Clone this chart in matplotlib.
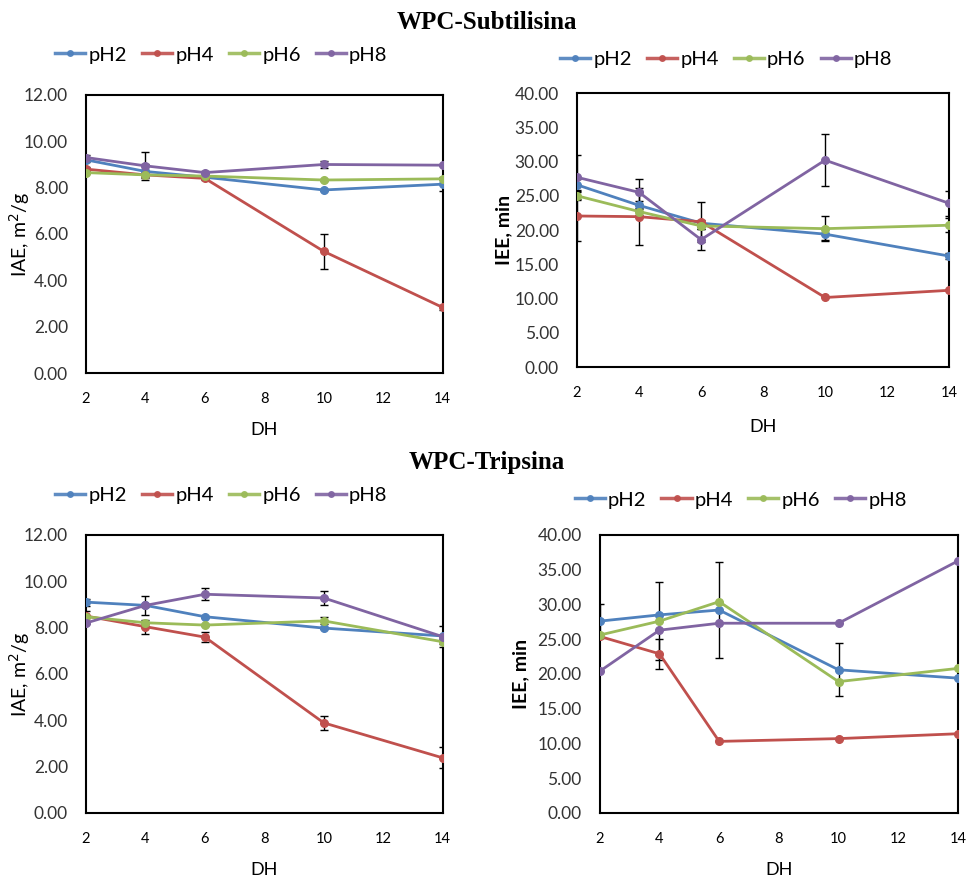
import numpy as np
import matplotlib.pyplot as plt
from matplotlib.lines import Line2D

dh = [2, 4, 6, 10, 14]
series_names = ["pH2", "pH4", "pH6", "pH8"]
colors = ["#4F81BD", "#C0504D", "#9BBB59", "#8064A2"]

# WPC-Subtilisina, IAE
iae_sub = [[9.20, 8.70, 8.45, 7.90, 8.15],
           [8.80, 8.55, 8.40, 5.25, 2.83],
           [8.65, 8.55, 8.50, 8.33, 8.38],
           [9.30, 8.94, 8.65, 9.00, 8.97]]
iae_sub_err = [[0.10, 0.30, 0.05, 0.05, 0.30],
               [0.10, 0.10, 0.05, 0.75, 0.10],
               [0.05, 0.05, 0.05, 0.05, 0.05],
               [0.10, 0.60, 0.05, 0.15, 0.05]]

# WPC-Subtilisina, IEE
iee_sub = [[26.6, 23.6, 21.0, 19.4, 16.2],
           [22.05, 21.95, 21.2, 10.15, 11.2],
           [25.0, 22.7, 20.6, 20.2, 20.7],
           [27.7, 25.5, 18.6, 30.2, 23.9]]
iee_sub_err = [[0.8, 0.6, 0.5, 0.9, 0.5],
               [3.7, 4.2, 2.9, 0.0, 0.0],
               [0.5, 0.5, 0.5, 1.8, 1.0],
               [3.3, 1.9, 1.5, 3.8, 1.8]]

# WPC-Tripsina, IAE
iae_tri = [[9.10, 8.96, 8.47, 7.98, 7.64],
           [8.50, 8.04, 7.59, 3.89, 2.38],
           [8.47, 8.21, 8.11, 8.29, 7.39],
           [8.20, 8.96, 9.44, 9.28, 7.61]]
iae_tri_err = [[0.15, 0.05, 0.05, 0.05, 0.05],
               [0.20, 0.30, 0.20, 0.30, 0.45],
               [0.05, 0.05, 0.05, 0.15, 0.10],
               [0.05, 0.40, 0.25, 0.30, 0.45]]

# WPC-Tripsina, IEE
iee_tri = [[27.6, 28.5, 29.2, 20.6, 19.4],
           [25.4, 22.9, 10.3, 10.7, 11.4],
           [25.6, 27.6, 30.4, 18.9, 20.8],
           [20.4, 26.3, 27.3, 27.3, 36.25]]
iee_tri_err = [[2.4, 0.0, 6.9, 3.8, 0.0],
               [0.0, 2.2, 0.0, 0.0, 0.0],
               [0.0, 5.6, 0.0, 0.0, 0.0],
               [0.0, 0.0, 0.0, 0.0, 0.0]]

tick_font = "Lato"

fig = plt.figure(figsize=(9.69, 8.81), dpi=100)

# rect, values, errors, ymax, ystep, ylabel, weight, ylabel x, xlabel y
panels = [
    ([0.0888, 0.5766, 0.368, 0.3156], iae_sub, iae_sub_err, 12, 2, "IAE, m$^2$/g", "normal", -0.151, -0.205),
    ([0.5955, 0.5834, 0.384, 0.311], iee_sub, iee_sub_err, 40, 5, "IEE, min", "bold", -0.175, -0.22),
    ([0.0888, 0.0772, 0.368, 0.3156], iae_tri, iae_tri_err, 12, 2, "IAE, m$^2$/g", "normal", -0.151, -0.205),
    ([0.619, 0.0772, 0.3695, 0.3156], iee_tri, iee_tri_err, 40, 5, "IEE, min", "bold", -0.196, -0.205),
]

legend_x = [0.057, 0.578, 0.057, 0.593]
legend_y = [0.9376, 0.932, 0.438, 0.4325]

for k, (rect, vals, errs, ymax, ystep, ylab, yw, ylx, xly) in enumerate(panels):
    ax = fig.add_axes(rect)
    for i in range(4):
        e = np.array(errs[i])
        x = np.array(dh)
        y = np.array(vals[i])
        m = e > 0
        ax.errorbar(x[m], y[m], yerr=e[m], fmt="none", ecolor="black",
                    elinewidth=1.0, capsize=3, capthick=1.0, zorder=2)
    for i in range(4):
        ax.plot(dh, vals[i], color=colors[i], marker="o", markersize=5.5,
                linewidth=2, zorder=3, label=series_names[i])
    ax.set_xlim(2, 14)
    ax.set_ylim(0, ymax)
    ax.set_xticks([2, 4, 6, 8, 10, 12, 14])
    yt = np.arange(0, ymax + 0.01, ystep)
    ax.set_yticks(yt)
    ax.set_yticklabels(["%.2f" % v for v in yt])
    ax.tick_params(axis="y", length=0, pad=13)
    ax.tick_params(axis="x", length=0, pad=14)
    for lab in ax.get_yticklabels():
        lab.set_fontfamily(tick_font)
        lab.set_fontsize(12.5)
        lab.set_color("#333333")
    for lab in ax.get_xticklabels():
        lab.set_fontfamily(tick_font)
        lab.set_fontsize(10.5)
    for sp in ax.spines.values():
        sp.set_linewidth(1.5)
        sp.set_color("black")
    ax.set_ylabel(ylab, fontsize=14, fontweight=yw, fontfamily=tick_font)
    ax.yaxis.set_label_coords(ylx, 0.5)
    ax.set_xlabel("DH", fontsize=13, fontfamily=tick_font, va="center")
    ax.xaxis.set_label_coords(0.5, xly)

    handles = [Line2D([0], [0], color=colors[i], marker="o", markersize=4,
                      linewidth=2.5, alpha=0.9) for i in range(4)]
    fig.legend(handles, series_names, loc="center left",
               bbox_to_anchor=(legend_x[k], legend_y[k]), ncol=4, frameon=False,
               handlelength=1.5, handletextpad=0.15, columnspacing=0.75,
               borderpad=0, borderaxespad=0,
               prop={"family": tick_font, "size": 14.5})

fig.text(0.502, 0.975, "WPC-Subtilisina", ha="center", va="center",
         fontsize=18, fontweight="bold", fontfamily="Liberation Serif")
fig.text(0.502, 0.475, "WPC-Tripsina", ha="center", va="center",
         fontsize=18, fontweight="bold", fontfamily="Liberation Serif")

fig.savefig("out.png", dpi=100)
